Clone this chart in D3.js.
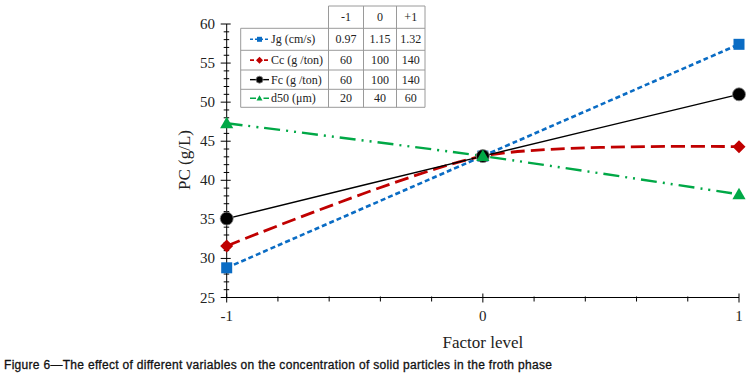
<!DOCTYPE html>
<html>
<head>
<meta charset="utf-8">
<script src="https://cdn.jsdelivr.net/npm/d3@7"></script>
<style>
  html, body { margin: 0; padding: 0; background: #fff; }
  svg { display: block; }
</style>
</head>
<body>
<svg id="chart" width="755" height="386"></svg>
<script>
// ---- data ----
const levels = [-1, 0, 1];
const jgValues = [28.8, 43.1, 57.4];
const ccValues = [31.6, 43.1, 44.3];
const fcValues = [35.1, 43.1, 51.0];
const d50Values = [47.3, 43.1, 38.2];
const seriesNames = ["Jg (cm/s)", "Cc (g /ton)", "Fc (g /ton)", "d50 (\u03bcm)"];
const levelHeaders = ["-1", "0", "+1"];
const jgLevels = ["0.97", "1.15", "1.32"];
const ccLevels = ["60", "100", "140"];
const fcLevels = ["60", "100", "140"];
const d50Levels = ["20", "40", "60"];
const xTickLabels = [-1, 0, 1];
const yTicks = [25, 30, 35, 40, 45, 50, 55, 60];
const caption = "Figure 6\u2014The effect of different variables on the concentration of solid particles in the froth phase";

const series = [
  { name: seriesNames[0], values: jgValues, levels: jgLevels, color: "#0a6cc4", width: 2.6, dash: "5,3", marker: "square" },
  { name: seriesNames[1], values: ccValues, levels: ccLevels, color: "#c00000", width: 2.8, dash: "14,6", marker: "diamond" },
  { name: seriesNames[2], values: fcValues, levels: fcLevels, color: "#000000", width: 1.4, dash: null, marker: "circle" },
  { name: seriesNames[3], values: d50Values, levels: d50Levels, color: "#00a846", width: 2.4, dash: "16,6,2,6,2,6", marker: "triangle" }
];

const svg = d3.select("#chart");
const serif = "'Liberation Serif', 'Times New Roman', serif";

const x = d3.scaleLinear().domain([-1, 1]).range([226.7, 739]);
const y = d3.scaleLinear().domain([25, 60]).range([297.5, 24]);

// ---- axes ----
const axisG = svg.append("g").attr("stroke", "#000").attr("stroke-width", 1);
axisG.append("line").attr("x1", x(-1)).attr("x2", x(-1)).attr("y1", y(60)).attr("y2", y(25));
axisG.append("line").attr("x1", x(-1)).attr("x2", x(1)).attr("y1", y(25)).attr("y2", y(25));

d3.range(25, 61, 1).forEach(v => {
  const major = v % 5 === 0;
  axisG.append("line")
    .attr("x1", x(-1) - (major ? 6 : 3)).attr("x2", x(-1) + (major ? 4 : 2.5))
    .attr("y1", y(v)).attr("y2", y(v));
});
d3.range(-10, 11, 2).forEach(k => {
  const v = k / 10;
  const major = k % 10 === 0;
  axisG.append("line")
    .attr("x1", x(v)).attr("x2", x(v))
    .attr("y1", y(25) - (major ? 4 : 1)).attr("y2", y(25) + (major ? 5 : 4));
});

svg.append("g").selectAll("text").data(yTicks).join("text")
  .attr("x", 215).attr("y", d => y(d) + 5)
  .attr("text-anchor", "end")
  .attr("font-family", serif).attr("font-size", 15).attr("fill", "#222")
  .text(d => d);

svg.append("g").selectAll("text").data(xTickLabels).join("text")
  .attr("x", d => x(d)).attr("y", 321)
  .attr("text-anchor", "middle")
  .attr("font-family", serif).attr("font-size", 15).attr("fill", "#222")
  .text(d => d);

svg.append("text")
  .attr("transform", `translate(190,160) rotate(-90)`)
  .attr("text-anchor", "middle")
  .attr("font-family", serif).attr("font-size", 17).attr("fill", "#222")
  .text("PC (g/L)");

svg.append("text")
  .attr("x", x(0)).attr("y", 348)
  .attr("text-anchor", "middle")
  .attr("font-family", serif).attr("font-size", 17).attr("fill", "#222")
  .text("Factor level");

svg.append("text")
  .attr("x", 4).attr("y", 369)
  .attr("font-family", "'Liberation Sans', Arial, sans-serif").attr("font-size", 12)
  .attr("letter-spacing", 0.3)
  .attr("fill", "#111").attr("stroke", "#111").attr("stroke-width", 0.3)
  .text(caption);

// ---- markers ----
function drawMarker(g, type, cx, cy, color, s) {
  if (type === "square") {
    g.append("rect").attr("x", cx - s / 2).attr("y", cy - s / 2).attr("width", s).attr("height", s).attr("fill", color);
  } else if (type === "diamond") {
    const r = s / 2 + 1;
    g.append("path").attr("d", `M${cx},${cy - r}L${cx + r},${cy}L${cx},${cy + r}L${cx - r},${cy}Z`).attr("fill", color);
  } else if (type === "circle") {
    g.append("circle").attr("cx", cx).attr("cy", cy).attr("r", s / 2 + 1).attr("fill", color).attr("stroke", "#888").attr("stroke-width", 0.8);
  } else if (type === "triangle") {
    const h = s * 1.0;
    g.append("path").attr("d", `M${cx},${cy - h * 0.6}L${cx + s * 0.6},${cy + h * 0.45}L${cx - s * 0.6},${cy + h * 0.45}Z`).attr("fill", color);
  }
}

// ---- lines ----
const line = d3.line().x(d => x(d[0])).y(d => y(d[1])).curve(d3.curveCardinal.tension(0.25));
const plotG = svg.append("g");
series.forEach(s => {
  const pts = levels.map((l, i) => [l, s.values[i]]);
  plotG.append("path").datum(pts)
    .attr("d", line)
    .attr("fill", "none")
    .attr("stroke", s.color)
    .attr("stroke-width", s.width)
    .attr("stroke-dasharray", s.dash);
});
series.forEach(s => {
  levels.forEach((l, i) => drawMarker(plotG, s.marker, x(l), y(s.values[i]), s.color, 11));
});

// ---- legend table ----
const tbl = svg.append("g");
const colX = [240.7, 328.5, 363.5, 396.5, 425];
const rowY = [6, 28.3, 50.3, 70, 89.3, 107.3];
const gridColor = "#9a9a9a";
tbl.append("line").attr("x1", colX[1]).attr("x2", colX[4]).attr("y1", rowY[0]).attr("y2", rowY[0]).attr("stroke", gridColor);
for (let r = 1; r < rowY.length; r++) {
  tbl.append("line").attr("x1", colX[0]).attr("x2", colX[4]).attr("y1", rowY[r]).attr("y2", rowY[r]).attr("stroke", gridColor);
}
tbl.append("line").attr("x1", colX[0]).attr("x2", colX[0]).attr("y1", rowY[1]).attr("y2", rowY[5]).attr("stroke", gridColor);
for (let c = 1; c < colX.length; c++) {
  tbl.append("line").attr("x1", colX[c]).attr("x2", colX[c]).attr("y1", rowY[0]).attr("y2", rowY[5]).attr("stroke", gridColor);
}
const tfont = { family: serif, size: 12 };
levelHeaders.forEach((h, c) => {
  tbl.append("text").attr("x", (colX[c + 1] + colX[c + 2]) / 2).attr("y", (rowY[0] + rowY[1]) / 2 + 4)
    .attr("text-anchor", "middle").attr("font-family", tfont.family).attr("font-size", tfont.size).attr("fill", "#222").text(h);
});
series.forEach((s, r) => {
  const cy = (rowY[r + 1] + rowY[r + 2]) / 2;
  tbl.append("line").attr("x1", 250).attr("x2", 269).attr("y1", cy).attr("y2", cy)
    .attr("stroke", s.color).attr("stroke-width", Math.min(s.width, 1.6))
    .attr("stroke-dasharray", s.dash ? (s.marker === "square" ? "3,2" : s.marker === "diamond" ? "4,3" : "6,3,1.5,3") : null);
  drawMarker(tbl, s.marker, 259.5, cy, s.color, 5);
  tbl.append("text").attr("x", 271).attr("y", cy + 4)
    .attr("font-family", tfont.family).attr("font-size", tfont.size).attr("fill", "#222").text(s.name);
  s.levels.forEach((v, c) => {
    tbl.append("text").attr("x", (colX[c + 1] + colX[c + 2]) / 2).attr("y", cy + 4)
      .attr("text-anchor", "middle").attr("font-family", tfont.family).attr("font-size", tfont.size).attr("fill", "#222").text(v);
  });
});
</script>
</body>
</html>
